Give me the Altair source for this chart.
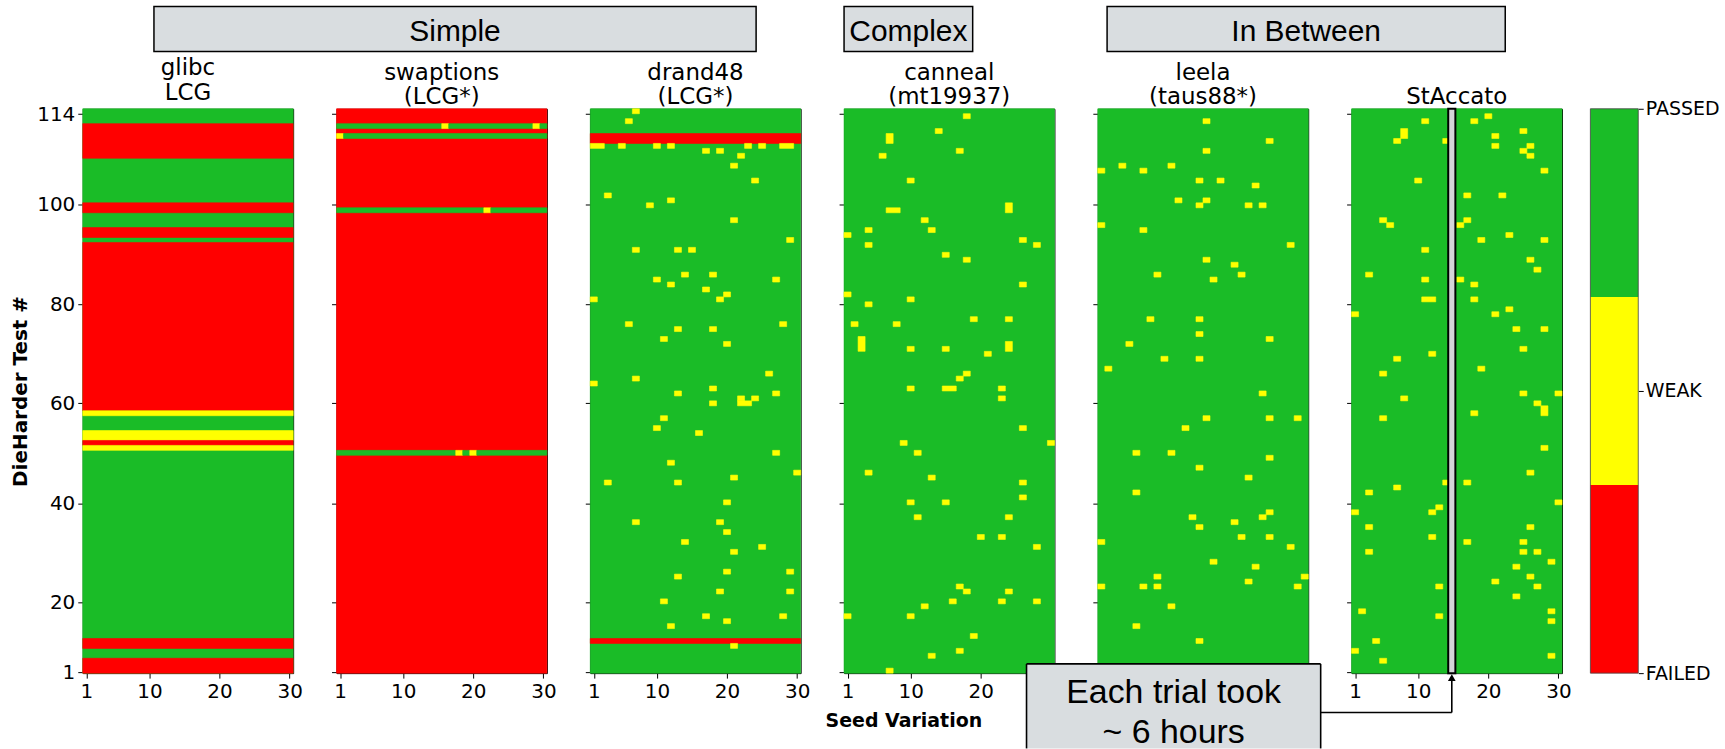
import altair as alt
import pandas as pd
from collections import Counter

# ---------------- data ----------------
N_SEEDS = 30
N_TESTS = 114
STATUS_ORDER = ["FAILED", "WEAK", "PASSED"]
STATUS_COLORS = ["#ff0000", "#ffff00", "#1abc27"]

SEED_TICKS = [1, 10, 20, 30]
TEST_TICK_POS = [0.7, 14.7, 34.8, 55.0, 75.05, 95.2, 113.4]
TEST_TICK_LABELS = ["1", "20", "40", "60", "80", "100", "114"]

PANEL_TITLES = [["glibc", "LCG"], ["swaptions", "(LCG*)"], ["drand48", "(LCG*)"],
                ["canneal", "(mt19937)"], ["leela", "(taus88*)"], ["StAccato"]]
GROUP_LABELS = ["Simple", "Complex", "In Between"]
NOTE_LINES = ["Each trial took", "~ 6 hours"]
X_TITLE = "Seed Variation"
Y_TITLE = "DieHarder Test #"
HIGHLIGHT_SEED = 15

# glibc: whole-row bands, listed from test 114 downwards
glibc_bands = [("PASSED", 3), ("FAILED", 7), ("PASSED", 9), ("FAILED", 2), ("PASSED", 3),
               ("FAILED", 2), ("PASSED", 1), ("FAILED", 34), ("WEAK", 1), ("PASSED", 3),
               ("WEAK", 2), ("FAILED", 1), ("WEAK", 1), ("PASSED", 38), ("FAILED", 2),
               ("PASSED", 2), ("FAILED", 3)]

# swaptions: mostly failed, a few passing rows
swaptions_passed_rows = [111, 109, 94, 45]
swaptions_weak = [(16, 111), (29, 111), (1, 109), (22, 94), (18, 45), (20, 45)]

# drand48: mostly passed, failing rows
drand48_failed_rows = [109, 108, 7]
drand48_weak = [
    (7, 114), (6, 112),
    (1, 107), (2, 107), (5, 107), (10, 107), (12, 107), (23, 107), (25, 107), (28, 107), (29, 107),
    (17, 106), (19, 106), (22, 105), (21, 103), (24, 100), (3, 97), (12, 96), (9, 95), (21, 92), (29, 88),
    (7, 86), (13, 86), (15, 86), (14, 81), (18, 81), (10, 80), (27, 80), (12, 79), (17, 78), (20, 77),
    (1, 76), (19, 76), (6, 71), (28, 71), (13, 70), (18, 70), (11, 68), (20, 67), (26, 61), (7, 60),
    (1, 59), (18, 58), (13, 57), (27, 57), (22, 56), (24, 56), (18, 55), (22, 55), (23, 55), (11, 52),
    (10, 50), (16, 49), (27, 45), (12, 43), (30, 41), (21, 40), (3, 39), (13, 39), (20, 35), (7, 31),
    (19, 31), (20, 29), (14, 27), (25, 26), (21, 25), (20, 21), (29, 21), (13, 20), (19, 17), (29, 17),
    (11, 15), (17, 12), (28, 12), (20, 11), (12, 10), (21, 6)]

canneal_weak = [
    (18, 113), (14, 110), (7, 109), (7, 108), (17, 106), (6, 105), (10, 100), (7, 94), (8, 94), (24, 95),
    (24, 94), (12, 92), (4, 90), (13, 90), (1, 89), (26, 88), (4, 87), (28, 87), (15, 85), (18, 84),
    (26, 79), (1, 77), (10, 76), (4, 75), (2, 71), (8, 71), (19, 72), (24, 72), (3, 68), (3, 67), (3, 66),
    (10, 66), (15, 66), (21, 65), (24, 67), (24, 66), (18, 61), (17, 60), (10, 58), (15, 58), (16, 58),
    (23, 58), (23, 56), (26, 50), (9, 47), (30, 47), (11, 45), (4, 41), (13, 40), (26, 39), (26, 36),
    (10, 35), (15, 35), (11, 32), (24, 32), (20, 28), (23, 28), (28, 26), (17, 18), (18, 17), (24, 17),
    (16, 15), (23, 15), (28, 15), (12, 14), (1, 12), (10, 12), (19, 8), (17, 5), (13, 4), (7, 1)]

leela_weak = [
    (16, 112), (25, 108), (16, 106), (1, 102), (4, 103), (7, 102), (11, 103), (15, 100), (18, 100),
    (23, 99), (12, 96), (16, 96), (15, 95), (22, 95), (24, 95), (1, 91), (7, 90), (28, 87), (16, 84),
    (20, 83), (9, 81), (21, 81), (17, 80), (8, 72), (15, 72), (15, 69), (25, 68), (5, 67), (10, 64),
    (15, 64), (2, 62), (24, 57), (16, 52), (25, 52), (29, 52), (13, 50), (6, 45), (11, 45), (25, 44),
    (15, 42), (22, 40), (6, 37), (25, 33), (24, 32), (14, 32), (15, 30), (20, 31), (1, 27), (21, 28),
    (25, 28), (28, 26), (17, 23), (23, 22), (9, 20), (22, 19), (30, 20), (1, 18), (7, 18), (9, 18),
    (29, 18), (11, 14), (6, 10), (15, 7)]

staccato_weak = [
    (11, 112), (18, 112), (20, 113), (8, 110), (8, 109), (7, 108), (14, 108), (21, 109), (21, 107),
    (25, 110), (26, 107), (25, 106), (26, 105), (28, 102), (10, 100), (17, 97), (22, 97), (5, 92),
    (6, 91), (16, 91), (17, 92), (19, 88), (23, 89), (28, 88), (11, 86), (26, 84), (27, 82), (3, 81),
    (11, 80), (16, 80), (18, 79), (11, 76), (12, 76), (18, 76), (1, 73), (21, 73), (23, 74), (24, 70),
    (28, 70), (25, 66), (12, 65), (7, 64), (19, 62), (5, 61), (25, 57), (30, 57), (8, 56), (27, 55),
    (28, 54), (28, 53), (18, 53), (5, 52), (28, 46), (26, 41), (14, 39), (17, 39), (7, 38), (3, 37),
    (30, 35), (1, 33), (12, 33), (13, 34), (3, 30), (26, 30), (12, 28), (17, 27), (25, 27), (3, 25),
    (25, 25), (27, 25), (29, 23), (24, 22), (26, 20), (21, 19), (27, 18), (13, 18), (24, 16), (2, 13),
    (29, 13), (13, 12), (29, 11), (4, 7), (1, 5), (5, 3), (29, 4)]


# ---------------- build grids ----------------
def grid_from_bands(bands):
    g = {}
    t = N_TESTS
    for status, n in bands:
        for _ in range(n):
            for s in range(1, N_SEEDS + 1):
                g[(s, t)] = status
            t -= 1
    return g


def grid_from_base(base, rows=(), row_status="PASSED", weak=()):
    g = {(s, t): base for s in range(1, N_SEEDS + 1) for t in range(1, N_TESTS + 1)}
    for t in rows:
        for s in range(1, N_SEEDS + 1):
            g[(s, t)] = row_status
    for s, t in weak:
        g[(s, t)] = "WEAK"
    return g


def grid_to_rects(g):
    major = Counter(g.values()).most_common(1)[0][0]
    out = [dict(x=0.5, x2=N_SEEDS + 0.5, y=0.5, y2=N_TESTS + 0.5, status=major)]
    open_runs = {}

    def close(key, bottom):
        s0, s1, st = key
        top = open_runs.pop(key)
        out.append(dict(x=s0 - 0.5, x2=s1 + 0.5, y=bottom - 0.5, y2=top + 0.5, status=st))

    for t in range(N_TESTS, 0, -1):
        runs = set()
        s = 1
        while s <= N_SEEDS:
            st = g[(s, t)]
            s0 = s
            while s + 1 <= N_SEEDS and g[(s + 1, t)] == st:
                s += 1
            if st != major:
                runs.add((s0, s, st))
            s += 1
        for key in list(open_runs):
            if key not in runs:
                close(key, t + 1)
        for key in sorted(runs):
            if key not in open_runs:
                open_runs[key] = t
    for key in list(open_runs):
        close(key, 1)
    return pd.DataFrame(out)


grids = [
    grid_from_bands(glibc_bands),
    grid_from_base("FAILED", swaptions_passed_rows, "PASSED", swaptions_weak),
    grid_from_base("PASSED", drand48_failed_rows, "FAILED", drand48_weak),
    grid_from_base("PASSED", weak=canneal_weak),
    grid_from_base("PASSED", weak=leela_weak),
    grid_from_base("PASSED", weak=staccato_weak),
]

# ---------------- chart ----------------
PW, PH = 211, 566
SPACING = 43.5
CB_W = 33
ONE = pd.DataFrame({"k": [0]})
color_scale = alt.Scale(domain=STATUS_ORDER, range=STATUS_COLORS)
x_scale = alt.Scale(domain=[0.5, N_SEEDS + 0.5], nice=False, zero=False)
y_scale = alt.Scale(domain=[0.5, N_TESTS + 0.5], nice=False, zero=False)

LABEL_EXPR = ("[" + ",".join("'%s'" % l for l in TEST_TICK_LABELS) + "][indexof(["
              + ",".join(str(p) for p in TEST_TICK_POS) + "], datum.value)]")
CB_VALUES = [0, 1.5, 3]
CB_EXPR = ("[" + ",".join("'%s'" % l for l in STATUS_ORDER) + "][indexof(["
           + ",".join(str(v) for v in CB_VALUES) + "], datum.value)]")

HEAD_FONT = "Liberation Sans"
BOX_FILL = "#d9dde0"


def heat(idx):
    df = grid_to_rects(grids[idx])
    first = idx == 0
    if first:
        yaxis = alt.Axis(values=TEST_TICK_POS, labelExpr=LABEL_EXPR, title=Y_TITLE, titlePadding=6)
    else:
        yaxis = alt.Axis(values=TEST_TICK_POS, labels=False, title=None)
    return alt.Chart(df).mark_rect(strokeWidth=0.6).encode(
        x=alt.X("x:Q", scale=x_scale, axis=alt.Axis(values=SEED_TICKS, title=None, labelFlush=False)),
        x2="x2:Q",
        y=alt.Y("y:Q", scale=y_scale, axis=yaxis),
        y2="y2:Q",
        color=alt.Color("status:N", scale=color_scale, legend=None),
        stroke=alt.Stroke("status:N", scale=color_scale, legend=None),
    )


def vtext(txt, x, y, size, font, weight="normal"):
    return alt.Chart(ONE).mark_text(text=txt, font=font, fontSize=size, fontWeight=weight,
                                    color="black", align="center", baseline="alphabetic").encode(
        x=alt.value(x), y=alt.value(y))


def vbox(x0, x1, y0, y1, fill, stroke="black", sw=1.5):
    return alt.Chart(ONE).mark_rect(fill=fill, stroke=stroke, strokeWidth=sw).encode(
        x=alt.value(x0), x2=alt.value(x1), y=alt.value(y0), y2=alt.value(y1))


def vrule(x0, x1, y0, y1, sw=1.6):
    return alt.Chart(ONE).mark_rule(color="black", strokeWidth=sw).encode(
        x=alt.value(x0), x2=alt.value(x1), y=alt.value(y0), y2=alt.value(y1))


panels = []
for i in range(6):
    layers = [heat(i)]
    if i == 3:
        layers.append(vtext(X_TITLE, 60, 620, 19, "DejaVu Sans", "bold"))
    if i == 5:
        hl = pd.DataFrame({"x": [HIGHLIGHT_SEED - 0.72], "x2": [HIGHLIGHT_SEED + 0.3],
                           "y": [0.5], "y2": [N_TESTS + 0.5]})
        layers.append(alt.Chart(hl).mark_rect(fill="#d4d6d8", stroke="black", strokeWidth=2).encode(
            x=alt.X("x:Q", scale=x_scale), x2="x2:Q", y=alt.Y("y:Q", scale=y_scale), y2="y2:Q"))
        ax = (HIGHLIGHT_SEED - 0.21 - 0.5) / N_SEEDS * PW
        bx0, bx1, by0, by1 = -326, -31, 556.75, 641.5
        layers.append(alt.Chart(ONE).mark_rect(fill=BOX_FILL).encode(
            x=alt.value(bx0), x2=alt.value(bx1), y=alt.value(by0), y2=alt.value(by1)))
        layers.append(vrule(bx0, bx0, by0, by1))
        layers.append(vrule(bx1, bx1, by0, by1))
        layers.append(vrule(bx0, bx1, by0, by0))
        layers.append(vtext(NOTE_LINES[0], (bx0 + bx1) / 2, 595.5, 34, HEAD_FONT))
        layers.append(vtext(NOTE_LINES[1], (bx0 + bx1) / 2, 636, 34, HEAD_FONT))
        layers.append(vrule(bx1, ax, 605.5, 605.5))
        layers.append(vrule(ax, ax, 605.5, 574))
        layers.append(alt.Chart(ONE).mark_point(shape="triangle-up", filled=True, size=60,
                                                color="black", opacity=1).encode(
            x=alt.value(ax), y=alt.value(570.5)))
    panels.append(alt.layer(*layers).properties(
        width=PW, height=PH,
        title=alt.TitleParams(PANEL_TITLES[i], frame="group")))

# colour bar + group header boxes (headers drawn here, offsets relative to this view)
cb_origin = 6 * (PW + SPACING)  # distance from first panel's left edge
cb_df = pd.DataFrame({"status": STATUS_ORDER, "lo": [0, 1, 2], "hi": [1, 2, 3]})
cb_layers = [
    alt.Chart(cb_df).mark_rect().encode(
        x=alt.value(-15), x2=alt.value(CB_W),
        y=alt.Y("lo:Q", scale=alt.Scale(domain=[0, 3], nice=False, zero=False),
                axis=alt.Axis(orient="right", values=CB_VALUES, labelExpr=CB_EXPR, title=None,
                              labelFontSize=19, labelPadding=2)),
        y2="hi:Q",
        color=alt.Color("status:N", scale=color_scale, legend=None),
    ),
    alt.Chart(ONE).mark_rect(fill="transparent", stroke="#444444", strokeWidth=0.8).encode(
        x=alt.value(-15), x2=alt.value(CB_W), y=alt.value(0), y2=alt.value(PH)),
]
header_boxes = [(71.4, 675.3), (763.5, 892.5), (1027.3, 1426.6)]
for lab, (a, b) in zip(GROUP_LABELS, header_boxes):
    cb_layers.append(vbox(a - cb_origin, b - cb_origin, -102.5, -57.5, BOX_FILL))
    cb_layers.append(vtext(lab, (a + b) / 2 - cb_origin, -68, 30, HEAD_FONT))

cbar = alt.layer(*cb_layers).properties(width=CB_W, height=PH,
                                        view=alt.ViewBackground(stroke="transparent"))

chart = alt.hconcat(*panels, cbar, spacing=SPACING, bounds="flush").properties(
    padding={"left": 10, "top": 4, "right": 5, "bottom": 0},
    background="white",
).configure_view(
    stroke="black", strokeWidth=1
).configure_axis(
    domain=False, grid=False, tickColor="black", tickSize=5, tickWidth=1,
    labelFont="DejaVu Sans", labelFontSize=20, labelColor="black", labelPadding=3,
    titleFont="DejaVu Sans", titleFontSize=20, titleFontWeight="bold", titleColor="black",
).configure_title(
    font="DejaVu Sans", fontSize=23, fontWeight="normal", color="black",
    lineHeight=25, offset=-1, anchor="middle",
)

chart.save("out.html", embed_options={"renderer": "svg", "actions": False})
